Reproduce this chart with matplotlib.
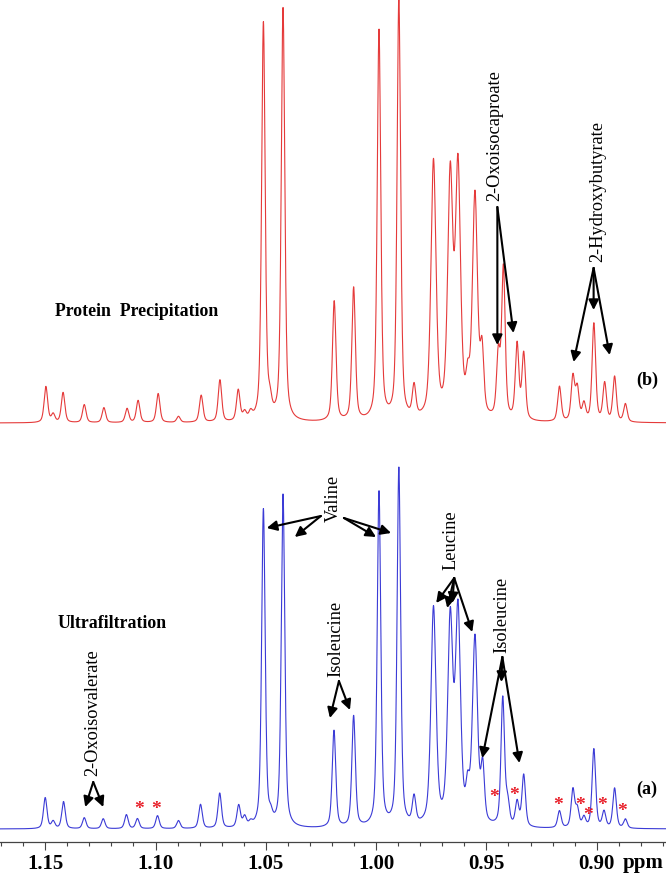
import matplotlib
matplotlib.use("Agg")
import matplotlib.pyplot as plt
from matplotlib.ticker import MultipleLocator, FormatStrFormatter
import numpy as np

# peak lists: shift (ppm) and height (arbitrary units)
ultra_ppm = [1.1500, 1.1464, 1.1417, 1.1323, 1.1237, 1.1132, 1.1082, 1.0991, 1.0896,
             1.0796, 1.0709, 1.0623, 1.0596, 1.0569, 1.0511, 1.0478, 1.0422, 1.0191,
             1.0102, 0.9987, 0.9897, 0.9828, 0.9740, 0.9664, 0.9629, 0.9585, 0.9552,
             0.9517, 0.9426, 0.9404, 0.9361, 0.9331, 0.9169, 0.9108, 0.9088, 0.9058,
             0.9013, 0.8967, 0.8919, 0.8870]
ultra_h = [31, 7, 27, 11, 10, 14, 10, 13, 8,
           24, 35, 22, 10, 4, 318, 8, 333, 97,
           111, 335, 358, 27, 217, 202, 210, 30, 186,
           55, 128, 22, 24, 52, 17, 38, 18, 10,
           79, 16, 40, 9]

precip_ppm = [1.1497, 1.1464, 1.1419, 1.1323, 1.1234, 1.1129, 1.1079, 1.0988, 1.0896,
              1.0793, 1.0708, 1.0625, 1.0596, 1.0569, 1.0511, 1.0482, 1.0422, 1.0190,
              1.0102, 0.9987, 0.9897, 0.9828, 0.9740, 0.9664, 0.9629, 0.9585, 0.9552,
              0.9520, 0.9446, 0.9423, 0.9361, 0.9331, 0.9169, 0.9108, 0.9088, 0.9058,
              0.9013, 0.8964, 0.8919, 0.8870]
precip_h = [36, 8, 30, 18, 15, 14, 22, 29, 6,
            27, 42, 31, 8, 7, 398, 14, 413, 120,
            133, 390, 421, 31, 257, 238, 246, 30, 222,
            62, 62, 150, 75, 66, 35, 44, 32, 17,
            98, 38, 45, 18]

# leucine multiplet lines are broader than the rest
broad_ppm = [0.9740, 0.9664, 0.9629, 0.9552]

ultra_offset = 13
precip_offset = 419

star_ppm = [1.1073, 1.0996, 0.9464, 0.9377, 0.9177, 0.9077, 0.9041, 0.8975, 0.8884]
star_y = [36, 36, 48, 49, 40, 40, 30, 40, 33]

fwhm = 0.0019
fwhm_broad = 0.0027
eta = 0.5


def spectrum(x, centers, heights):
    y = np.zeros_like(x)
    for c, h in zip(centers, heights):
        hw = (fwhm_broad if c in broad_ppm else fwhm) / 2
        d = (x - c) / hw
        lor = 1.0 / (1.0 + d ** 2)
        gau = np.exp(-np.log(2) * d ** 2)
        y += h * (eta * lor + (1 - eta) * gau)
    return y


left, right = 1.1705, 0.8686
x = np.linspace(left, right, 4000)

W, H = 666, 874
axis_px = 842

def px_ppm(px):
    return left - px / 2200.0

def px_y(py):
    return axis_px - py

plt.rcParams['font.family'] = ['Liberation Serif', 'DejaVu Serif']

fig = plt.figure(figsize=(W / 100, H / 100), dpi=100)
ax = fig.add_axes([0, (H - axis_px) / H, 1, axis_px / H])

ax.plot(x, spectrum(x, precip_ppm, precip_h) + precip_offset, color='#e53a3a', lw=0.8)
ax.plot(x, spectrum(x, ultra_ppm, ultra_h) + ultra_offset, color='#3b3bd6', lw=0.8)

ax.set_xlim(left, right)
ax.set_ylim(0, axis_px)
for s in ['top', 'left', 'right']:
    ax.spines[s].set_visible(False)
ax.spines['bottom'].set_color('#444444')
ax.spines['bottom'].set_linewidth(0.9)
ax.set_yticks([])
ax.xaxis.set_major_locator(MultipleLocator(0.05))
ax.xaxis.set_minor_locator(MultipleLocator(0.01))
ax.xaxis.set_major_formatter(FormatStrFormatter('%.2f'))
ax.tick_params(axis='x', which='major', length=5.5, width=0.8, color='#444444',
               labelsize=15, pad=3)
ax.tick_params(axis='x', which='minor', length=2.8, width=0.8, color='#444444')
for lab in ax.get_xticklabels():
    lab.set_fontweight('bold')

ax.text(px_ppm(621), px_y(863), 'ppm', fontsize=15, fontweight='bold',
        ha='left', va='center', clip_on=False)

# sample labels
ax.text(px_ppm(55), px_y(312), 'Protein  Precipitation', fontsize=12.8, fontweight='bold',
        ha='left', va='center')
ax.text(px_ppm(57), px_y(624), 'Ultrafiltration', fontsize=12.8, fontweight='bold',
        ha='left', va='center')
ax.text(px_ppm(645), px_y(380), '(b)', fontsize=13, fontweight='bold', ha='center', va='center')
ax.text(px_ppm(645), px_y(789), '(a)', fontsize=13, fontweight='bold', ha='center', va='center')

arrow_kw = dict(arrowstyle='-|>', color='black', lw=1.5, mutation_scale=15,
                shrinkA=0, shrinkB=0)

# metabolite labels (rotated) with arrows
labels = [
    ('2-Oxoisocaproate', 493, 136, (496, 207), [(496, 345), (512, 333)]),
    ('2-Hydroxybutyrate', 596, 192, (592, 268), [(572, 362), (592, 310), (608, 355)]),
    ('Isoleucine', 335, 639, (338, 681), [(329, 718), (349, 710)]),
    ('Leucine', 450, 540, (453, 578), [(435, 603), (446, 608), (451, 603), (471, 632)]),
    ('Isoleucine', 500, 615, (501, 657), [(481, 758), (500, 682), (518, 763)]),
    ('2-Oxoisovalerate', 92, 713, (93, 782), [(85, 807), (103, 807)]),
]
for name, tx, ty, start, ends in labels:
    ax.text(px_ppm(tx), px_y(ty), name, fontsize=13.2, rotation=90,
            ha='center', va='center')
    for ex, ey in ends:
        ax.annotate('', xy=(px_ppm(ex), px_y(ey)), xytext=(px_ppm(start[0]), px_y(start[1])),
                    arrowprops=arrow_kw)

ax.text(px_ppm(332), px_y(498), 'Valine', fontsize=13.2, rotation=90, ha='center', va='center')
for start, ends in [((320, 516), [(266, 528), (294, 537)]),
                    ((343, 518), [(375, 537), (390, 533)])]:
    for ex, ey in ends:
        ax.annotate('', xy=(px_ppm(ex), px_y(ey)), xytext=(px_ppm(start[0]), px_y(start[1])),
                    arrowprops=arrow_kw)

for sx, sy in zip(star_ppm, star_y):
    ax.text(sx, sy - 3, '*', color='#e8202a', fontsize=14, fontweight='bold',
            ha='center', va='center')

fig.savefig('out.png', dpi=100)
